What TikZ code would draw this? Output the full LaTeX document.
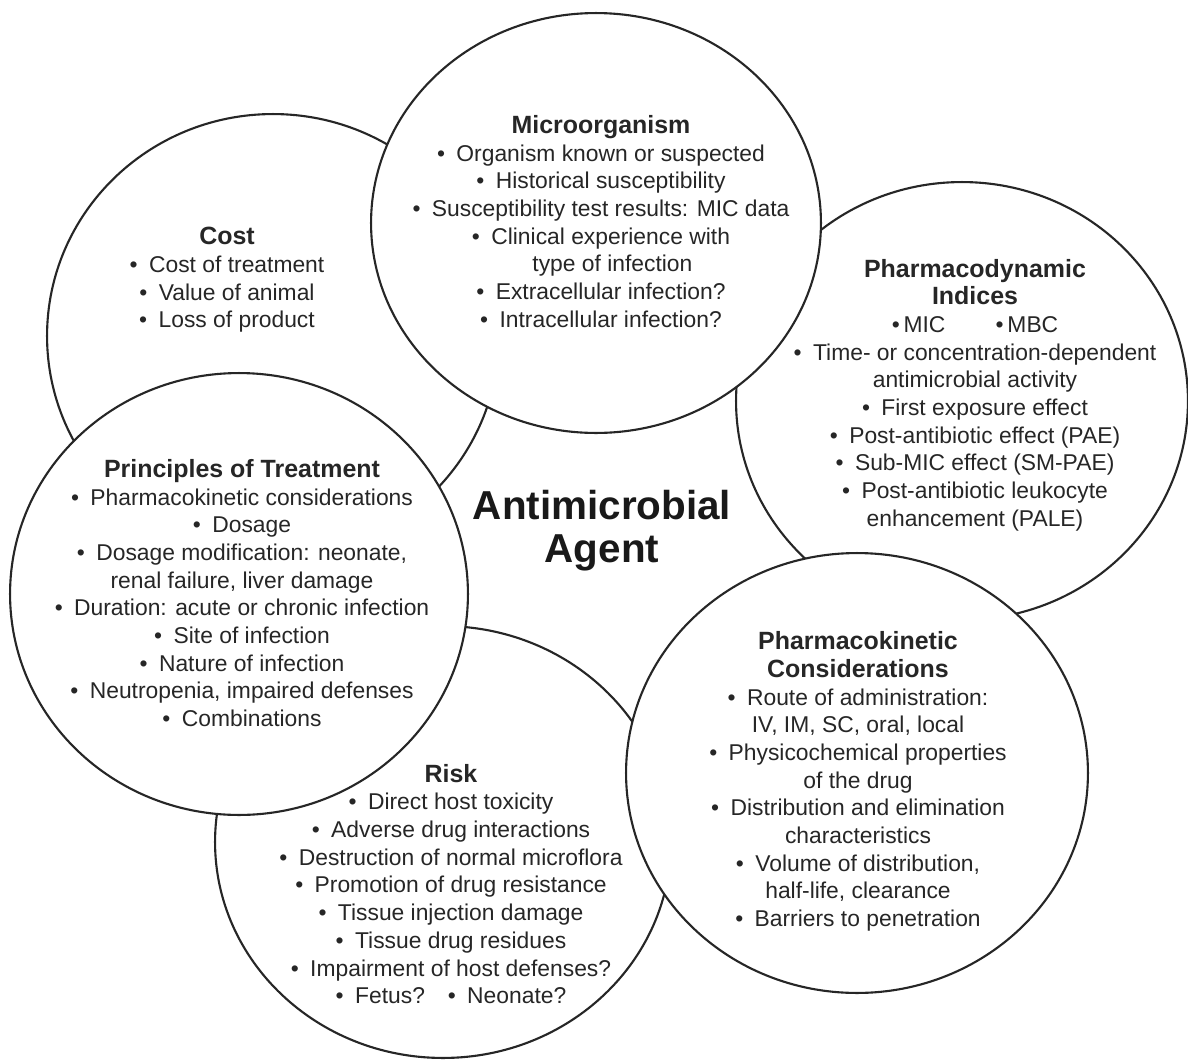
\documentclass[tikz,border=0pt]{standalone}
\usepackage{fontspec}
\setmainfont{Liberation Sans}
\usetikzlibrary{shapes.geometric}
\newcommand\bl{\textbullet\hspace{0.5em}}
\newcommand\ttl[1]{{\fontsize{14.2}{15.76}\selectfont\bfseries #1}}
\begin{document}
\begin{tikzpicture}[x=0.02cm,y=-0.02cm,
  circ/.style={ellipse, draw=black!85, line width=1.2pt, fill=white, inner sep=0pt},
  txt/.style={align=center, text=black!85, inner sep=0pt, font=\fontsize{13}{15.76}\selectfont},
  big/.style={align=center, text=black!90, inner sep=0pt, font=\fontsize{23}{24.5}\selectfont\bfseries}]
\fill[white] (0,0) rectangle (1188,1062);
\useasboundingbox (0,0) rectangle (1188,1062);
% circles, bottom to top
\node[circ, minimum width=9.04cm, minimum height=8.88cm] (cost) at (273,336) {};
\node[circ, minimum width=9.04cm, minimum height=8.76cm] (pd) at (962,401) {};
\node[circ, minimum width=9.12cm, minimum height=8.64cm] (risk) at (443,842) {};
\node[circ, minimum width=9.0cm, minimum height=8.4cm] (micro) at (596,223) {};
\node[circ, minimum width=9.16cm, minimum height=8.84cm] (princ) at (239,594) {};
\node[circ, minimum width=9.24cm, minimum height=8.8cm] (pk) at (857,773) {};
% texts
\node[txt] (costtxt) at (227,280) {\ttl{Cost}\\ \bl Cost of treatment\\ \bl Value of animal\\ \bl Loss of product};
\node[txt] (microtxt) at (601,221.5) {\ttl{Microorganism}\\ \bl Organism known or suspected\\ \bl Historical susceptibility\\ \bl Susceptibility test results: MIC data\\ \bl Clinical experience with\\ \hspace*{1em}type of infection\\ \bl Extracellular infection?\\ \bl Intracellular infection?};
\node[txt] (pdtxt) at (975,395) {\ttl{Pharmacodynamic}\\ \ttl{Indices}\\ \textbullet\,MIC\hspace{2.2em}\textbullet\,MBC\\ \bl Time- or concentration-dependent\\ antimicrobial activity\\ \bl First exposure effect\\ \bl Post-antibiotic effect (PAE)\\ \bl Sub-MIC effect (SM-PAE)\\ \bl Post-antibiotic leukocyte\\ enhancement (PALE)};
\node[txt] (princtxt) at (242,593) {\ttl{Principles of Treatment}\\ \bl Pharmacokinetic considerations\\ \bl Dosage\\ \bl Dosage modification: neonate,\\ renal failure, liver damage\\ \bl Duration: acute or chronic infection\\ \bl Site of infection\\ \bl Nature of infection\\ \bl Neutropenia, impaired defenses\\ \bl Combinations};
\node[txt] (risktxt) at (451,884) {\ttl{Risk}\\ \bl Direct host toxicity\\ \bl Adverse drug interactions\\ \bl Destruction of normal microflora\\ \bl Promotion of drug resistance\\ \bl Tissue injection damage\\ \bl Tissue drug residues\\ \bl Impairment of host defenses?\\ \bl Fetus?\hspace{1em}\bl Neonate?};
\node[txt] (pktxt) at (858,781.5) {\ttl{Pharmacokinetic}\\ \ttl{Considerations}\\ \bl Route of administration:\\ IV, IM, SC, oral, local\\ \bl Physicochemical properties\\ of the drug\\ \bl Distribution and elimination\\ characteristics\\ \bl Volume of distribution,\\ half-life, clearance\\ \bl Barriers to penetration};
\node[big] (agent) at (602,531) {Antimicrobial\\ Agent};
\end{tikzpicture}
\end{document}
